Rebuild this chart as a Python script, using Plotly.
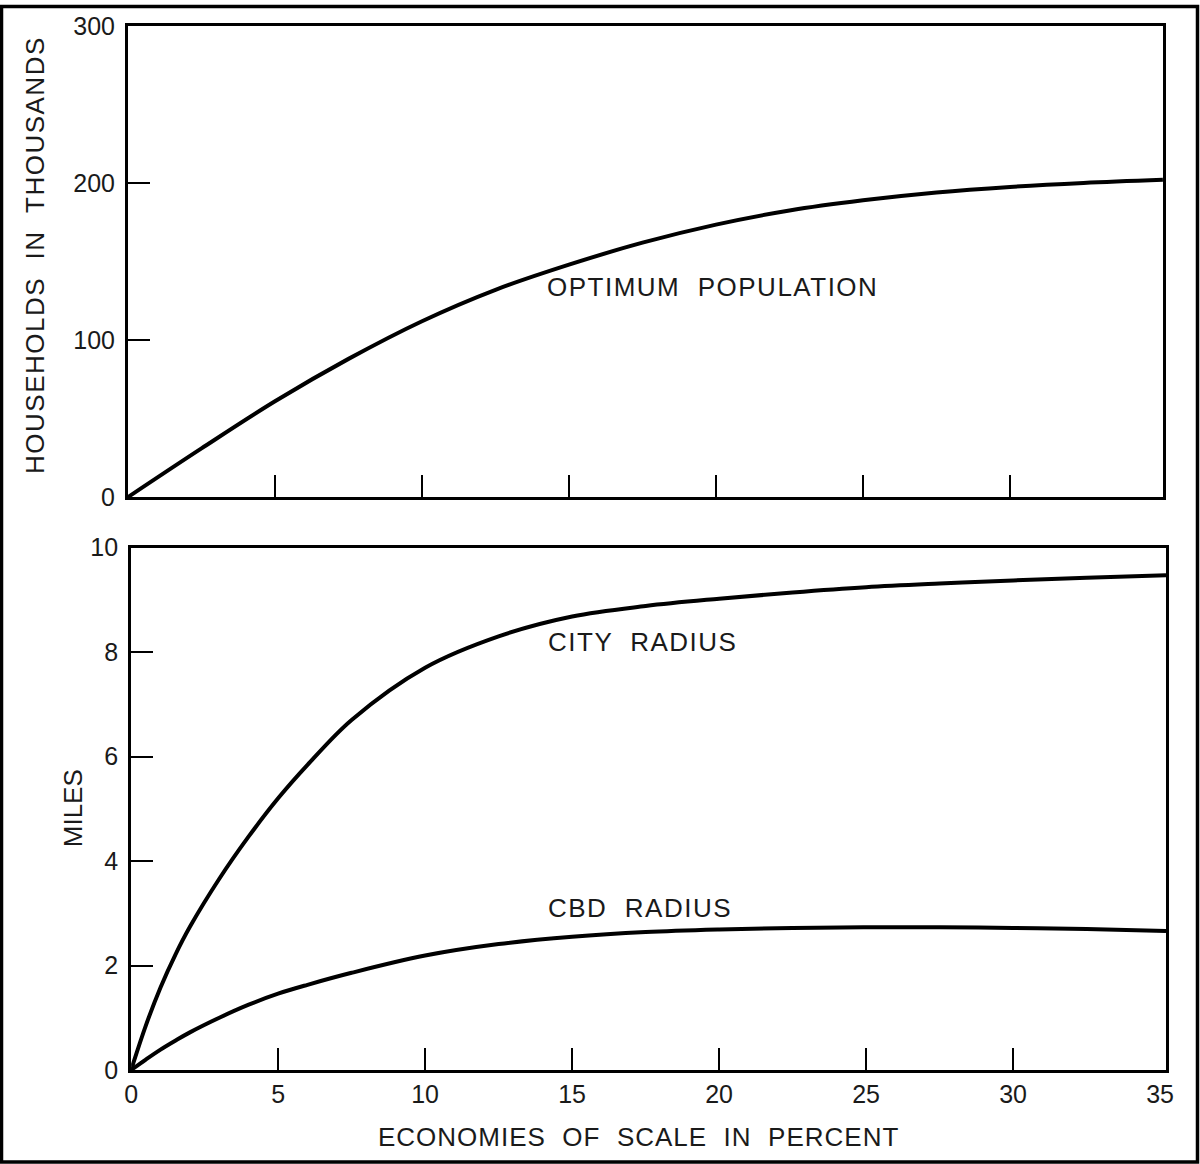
import plotly.graph_objects as go

# ---- data ----
pop_x = [0, 2.5, 5, 7.5, 10, 12.5, 15, 17.5, 20, 22.5, 25, 27.5, 30, 32.5, 35.2]
population = [0, 31, 61, 88, 112, 132, 148, 162, 173.5, 182.5, 189, 194, 197.5, 200, 202]

radius_x = [0, 0.5, 1, 1.5, 2, 3, 4, 5, 6, 7.5, 10, 12.5, 15, 17.5, 20, 22.5, 25, 27.5, 30, 32.5, 35.2]
city_radius = [0, 0.85, 1.58, 2.2, 2.74, 3.66, 4.47, 5.2, 5.84, 6.7, 7.7, 8.3, 8.68, 8.88, 9.02, 9.14, 9.24, 9.31, 9.37, 9.42, 9.47]
cbd_radius = [0, 0.2, 0.39, 0.56, 0.72, 1.0, 1.25, 1.46, 1.63, 1.86, 2.19, 2.41, 2.55, 2.64, 2.69, 2.72, 2.73, 2.73, 2.72, 2.70, 2.66]

x_ticks = [0, 5, 10, 15, 20, 25, 30, 35]
x_inner_ticks = [5, 10, 15, 20, 25, 30]
pop_ticks = [0, 100, 200, 300]
miles_ticks = [0, 2, 4, 6, 8, 10]

W, H = 1200, 1164
ML, MR, MT, MB = 128, 34, 21, 94
PW, PH = W - ML - MR, H - MT - MB


def px(xp):
    return (xp - ML) / PW


def py(yp):
    return (H - MB - yp) / PH


FONT = "Liberation Sans, Arial, sans-serif"
TXT = "#1a1a1a"


def spaced(text, ls):
    return '<span style="letter-spacing:%spx">%s</span>' % (ls, text.replace("  ", " \u00a0"))


fig = go.Figure()
line = dict(color="black", width=4, shape="spline", smoothing=1.0)
fig.add_trace(go.Scatter(x=pop_x, y=population, mode="lines", line=line,
                         xaxis="x", yaxis="y", showlegend=False))
fig.add_trace(go.Scatter(x=radius_x, y=city_radius, mode="lines", line=line,
                         xaxis="x2", yaxis="y2", showlegend=False))
fig.add_trace(go.Scatter(x=radius_x, y=cbd_radius, mode="lines", line=line,
                         xaxis="x2", yaxis="y2", showlegend=False))

axis_common = dict(showline=True, mirror=True, linecolor="black", linewidth=3,
                   showgrid=False, zeroline=False, tickcolor="black", tickwidth=2,
                   ticklen=22, tickfont=dict(family=FONT, size=25, color=TXT))

fig.update_layout(
    width=W, height=H,
    margin=dict(l=ML, r=MR, t=MT, b=MB),
    paper_bgcolor="white", plot_bgcolor="white",
    xaxis=dict(domain=[0, 0.997], range=[0, 35.2], anchor="y",
               tickmode="array", tickvals=x_inner_ticks, ticks="inside",
               showticklabels=False, **axis_common),
    yaxis=dict(domain=[py(494.3), 1], range=[0, 300], anchor="x",
               tickmode="array", tickvals=pop_ticks, ticks="inside",
               ticklabelstandoff=5, **axis_common),
    xaxis2=dict(domain=[0.003, 1], range=[0, 35.2], anchor="y2",
                tickmode="array", tickvals=x_ticks, ticks="",
                ticklabelstandoff=0,
                minor=dict(tickmode="array", tickvals=x_inner_ticks, ticks="inside",
                           ticklen=22, tickwidth=2, tickcolor="black"),
                **axis_common),
    yaxis2=dict(domain=[0, py(545)], range=[0, 10], anchor="x2",
                tickmode="array", tickvals=miles_ticks, ticks="inside",
                ticklabelstandoff=5, **axis_common),
)

ann_font = dict(family=FONT, size=26, color=TXT)
fig.add_annotation(text=spaced("OPTIMUM  POPULATION", 1.5), x=14.2, y=133.6,
                   xref="x", yref="y", xanchor="left", yanchor="middle",
                   showarrow=False, font=ann_font)
fig.add_annotation(text=spaced("CITY  RADIUS", 1.5), x=14.1, y=8.2,
                   xref="x2", yref="y2", xanchor="left", yanchor="middle",
                   showarrow=False, font=ann_font)
fig.add_annotation(text=spaced("CBD  RADIUS", 1.5), x=14.1, y=3.1,
                   xref="x2", yref="y2", xanchor="left", yanchor="middle",
                   showarrow=False, font=ann_font)
# axis titles
fig.add_annotation(text=spaced("HOUSEHOLDS  IN  THOUSANDS", 1.5), x=px(35), y=py(251),
                   xref="paper", yref="paper", xanchor="center", yanchor="middle",
                   textangle=-90, showarrow=False, font=ann_font)
fig.add_annotation(text="MILES", x=px(73), y=py(807),
                   xref="paper", yref="paper", xanchor="center", yanchor="middle",
                   textangle=-90, showarrow=False, font=ann_font)
fig.add_annotation(text=spaced("ECONOMIES  OF  SCALE  IN  PERCENT", 1), x=px(638), y=py(1137),
                   xref="paper", yref="paper", xanchor="center", yanchor="middle",
                   showarrow=False, font=ann_font)

# outer frame of the figure
fig.add_shape(type="rect", xref="paper", yref="paper",
              x0=px(1.5), x1=px(1197.5), y0=py(1162.5), y1=py(1.5),
              line=dict(color="black", width=3.5), fillcolor="rgba(0,0,0,0)")

fig.write_html("out.html", config={"displayModeBar": False},
               post_script="document.body.style.margin='0px';document.body.style.padding='0px';")
